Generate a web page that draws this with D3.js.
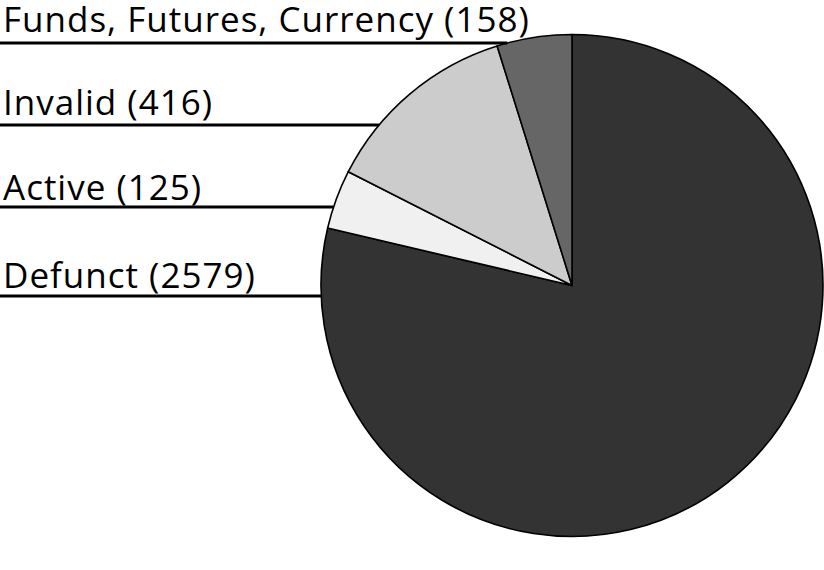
<!DOCTYPE html>
<html>
  <head>
    <style>
      body { margin: 0; background: #fff; }
      text { font-family: 'Open Sans', sans-serif; fill: #000; }
    </style>
  </head>
  <body>
    <div class="chart"></div>
    <script src="https://d3js.org/d3.v7.min.js"></script>
    <script type="text/javascript">
      // slices, clockwise from 12 o'clock
      var categories = ['Defunct', 'Active', 'Invalid', 'Funds, Futures, Currency'];
      var counts = [2579, 125, 416, 158];
      var colors = ['#333333', '#f0f0f0', '#cccccc', '#666666'];
      // label rows, top to bottom (baseline, underline)
      var labelOrder = ['Funds, Futures, Currency', 'Invalid', 'Active', 'Defunct'];
      var labelBase = [32, 115, 200, 288];
      var labelLine = [43, 125, 207, 296];

      var width = 824, height = 570;
      var cx = 572, cy = 285.5, radius = 251;

      var svg = d3.select('.chart').append('svg')
        .attr('width', width)
        .attr('height', height);

      var data = categories.map(function(c, i) {
        return {name: c, value: counts[i], color: colors[i]};
      });

      var pie = d3.pie().sort(null).value(function(d) { return d.value; });
      var arc = d3.arc().innerRadius(0).outerRadius(radius);

      var g = svg.append('g').attr('transform', 'translate(' + cx + ',' + cy + ')');
      g.selectAll('path')
        .data(pie(data))
        .enter()
        .append('path')
        .attr('d', arc)
        .attr('fill', function(d) { return d.data.color; })
        .attr('stroke', '#000')
        .attr('stroke-width', 1.6)
        .attr('stroke-linejoin', 'round');

      // labels with underline running to the pie edge
      var labels = svg.selectAll('g.label')
        .data(labelOrder)
        .enter()
        .append('g')
        .attr('class', 'label');

      labels.append('line')
        .attr('x1', 0)
        .attr('x2', function(d, i) {
          var dy = labelLine[i] - cy;
          return cx - Math.sqrt(radius * radius - dy * dy);
        })
        .attr('y1', function(d, i) { return labelLine[i]; })
        .attr('y2', function(d, i) { return labelLine[i]; })
        .attr('stroke', '#000')
        .attr('stroke-width', 3);

      labels.append('text')
        .attr('x', 3)
        .attr('y', function(d, i) { return labelBase[i]; })
        .style('font-size', '35px')
        .style('letter-spacing', '1px')
        .text(function(d) {
          return d + ' (' + counts[categories.indexOf(d)] + ')';
        });
    </script>
  </body>
</html>
